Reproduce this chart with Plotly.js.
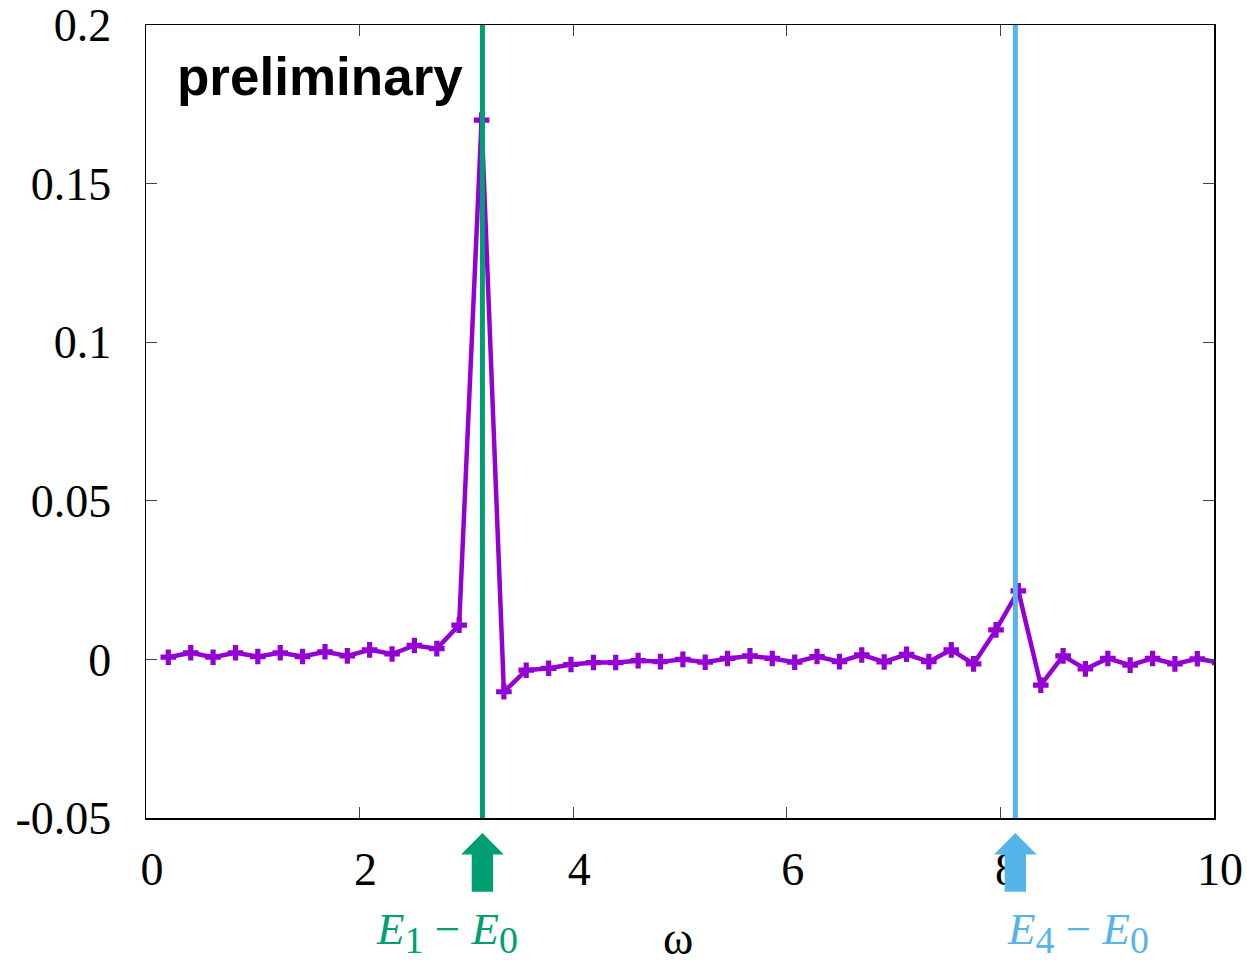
<!DOCTYPE html>
<html>
<head>
<meta charset="utf-8">
<script src="https://cdn.plot.ly/plotly-3.0.1.min.js"></script>
<style>html,body{margin:0;padding:0;background:#fff;}#chart{width:1247px;height:960px;}</style>
</head>
<body>
<div id="chart"></div>
<script>
// frequency omega
const omega = [0.209, 0.419, 0.628, 0.838, 1.047, 1.257, 1.466, 1.676, 1.885, 2.094,
  2.304, 2.513, 2.723, 2.932, 3.142, 3.351, 3.560, 3.770, 3.979, 4.189,
  4.398, 4.608, 4.817, 5.027, 5.236, 5.445, 5.655, 5.864, 6.074, 6.283,
  6.493, 6.702, 6.912, 7.121, 7.330, 7.540, 7.749, 7.959, 8.168, 8.378,
  8.587, 8.796, 9.006, 9.215, 9.425, 9.634, 9.844, 10.053];
// spectral response
const response = [0.0007, 0.0021, 0.0007, 0.0021, 0.0009, 0.0021, 0.0009, 0.0024, 0.0011, 0.0030,
  0.0017, 0.0044, 0.0034, 0.0108, 0.170, -0.0102, -0.0034, -0.0028, -0.0016, -0.0010,
  -0.0010, -0.0004, -0.0007, 0.0000, -0.0009, 0.0003, 0.0011, 0.0003, -0.0009, 0.0009,
  -0.0007, 0.0014, -0.0008, 0.0016, -0.0007, 0.0030, -0.0014, 0.0093, 0.0216, -0.0081,
  0.0011, -0.0030, 0.0003, -0.0018, 0.0003, -0.0014, 0.0002, -0.0010];
// excitation energies
const transitionNames = [
  '<i>E</i><sub><span style="font-size:38px">1</span></sub> − <i>E</i><sub><span style="font-size:38px">0</span></sub>',
  '<i>E</i><sub><span style="font-size:38px">4</span></sub> − <i>E</i><sub><span style="font-size:38px">0</span></sub>'];
const transitionEnergies = [3.15, 8.14];
const labelOffsets = [-0.33, 0.59];
const transitionColors = ['#009E73', '#56B4E9'];
const xTicks = [0, 2, 4, 6, 8, 10];
const yTicks = [-0.05, 0, 0.05, 0.1, 0.15, 0.2];
const yTickText = ['-0.05', '0', '0.05', '0.1', '0.15', '0.2'];

const shapes = [];
const annotations = [];
transitionEnergies.forEach((e, i) => {
  shapes.push({type: 'line', xref: 'x', yref: 'paper', x0: e, x1: e, y0: 0, y1: 1,
    line: {color: transitionColors[i], width: 5}});
  const hw = 0.2, sw = 0.1, yt = -0.019, yh = -0.046, yb = -0.093;
  const p = `M${e - sw},${yb} L${e - sw},${yh} L${e - hw},${yh} L${e},${yt} L${e + hw},${yh} L${e + sw},${yh} L${e + sw},${yb} Z`;
  shapes.push({type: 'path', xref: 'x', yref: 'paper', path: p,
    fillcolor: transitionColors[i], line: {width: 0}});
  annotations.push({xref: 'x', yref: 'paper', x: e + labelOffsets[i], y: -0.144,
    text: transitionNames[i], showarrow: false, xanchor: 'center', yanchor: 'middle',
    font: {family: 'Liberation Serif, serif', size: 45, color: transitionColors[i]}});
});
annotations.push({xref: 'paper', yref: 'paper', x: 0.027, y: 0.935, xanchor: 'left', yanchor: 'middle',
  text: '<b>preliminary</b>', showarrow: false,
  font: {family: 'Liberation Sans, Arial, sans-serif', size: 53, color: '#000'}});
annotations.push({xref: 'paper', yref: 'paper', x: 0.498, y: -0.152, xanchor: 'center', yanchor: 'middle',
  text: 'ω', showarrow: false,
  font: {family: 'Liberation Serif, serif', size: 46, color: '#000'}});

const trace = {
  x: omega, y: response, type: 'scatter', mode: 'lines+markers',
  line: {color: '#9400D3', width: 4.5},
  marker: {symbol: 'cross', size: 13, color: '#9400D3', line: {width: 0}},
  cliponaxis: true, showlegend: false
};

const layout = {
  width: 1247, height: 960,
  margin: {l: 145.5, r: 33, t: 25, b: 142},
  paper_bgcolor: '#fff', plot_bgcolor: '#fff',
  font: {family: 'Liberation Serif, serif', size: 46, color: '#000'},
  xaxis: {range: [0, 10], tickvals: xTicks, ticktext: xTicks.map(String),
    ticks: 'inside', ticklen: 11, tickwidth: 1, tickcolor: '#444',
    showline: true, linecolor: '#000', linewidth: 1.5, mirror: 'ticks',
    showgrid: false, zeroline: false, ticklabelstandoff: 10, ticklabelshift: 6,
    tickfont: {family: 'Liberation Serif, serif', size: 46, color: '#000'}},
  yaxis: {range: [-0.05, 0.2], tickvals: yTicks, ticktext: yTickText,
    ticks: 'inside', ticklen: 11, tickwidth: 1, tickcolor: '#444',
    showline: true, linecolor: '#000', linewidth: 1.5, mirror: 'ticks',
    showgrid: false, zeroline: false, ticklabelstandoff: 24,
    tickfont: {family: 'Liberation Serif, serif', size: 46, color: '#000'}},
  shapes: shapes,
  annotations: annotations
};

Plotly.newPlot('chart', [trace], layout, {staticPlot: true, displayModeBar: false});
</script>
</body>
</html>
